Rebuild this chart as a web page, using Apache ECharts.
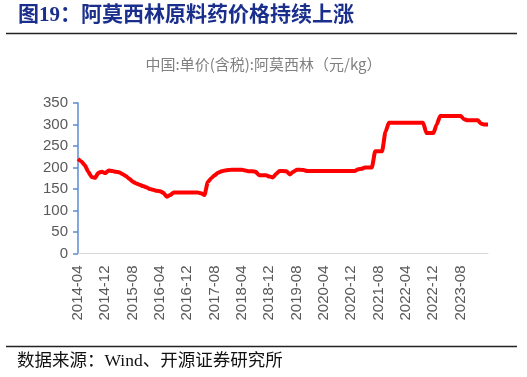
<!DOCTYPE html>
<html>
<head>
<meta charset="utf-8">
<script src="https://cdn.jsdelivr.net/npm/echarts@6/dist/echarts.min.js"></script>
<style>
html,body{margin:0;padding:0;background:#fff;}
#c{width:527px;height:377px;}
</style>
</head>
<body>
<div id="c"></div>
<script>
var titleText = '图19：阿莫西林原料药价格持续上涨';
var subTitle = '中国:单价(含税):阿莫西林（元/kg）';
var sourceText = '数据来源：Wind、开源证券研究所';
var yTicks = [0, 50, 100, 150, 200, 250, 300, 350];

// monthly values 2014-04 .. 2024-04
var values = [
  220, 214, 205, 190, 178, 176, 188, 190, 187, 193, 192, 190,
  189, 185, 180, 174, 167, 163, 160, 157, 154, 150, 148, 146,
  145, 141, 132, 136, 142, 142, 142, 142, 142, 142, 142, 142,
  140, 136, 166, 175, 182, 188, 191, 193, 194, 195, 195, 195,
  195, 193, 191, 191, 190, 182, 182, 182, 179, 177, 185, 192,
  192, 191, 184, 190, 195, 195, 194, 192, 192, 192, 192, 192,
  192, 192, 192, 192, 192, 192, 192, 192, 192, 192, 196, 197,
  200, 200, 200, 238, 238, 238, 283, 304, 304, 304, 304, 304,
  304, 304, 304, 304, 304, 304, 280, 280, 280, 300, 320, 320,
  320, 320, 320, 320, 320, 312, 310, 310, 310, 310, 302, 300,
  300
];

var categories = [];
(function(){
  var y = 2014, m = 4;
  for (var i = 0; i < values.length; i++) {
    categories.push(y + '-' + (m < 10 ? '0' + m : '' + m));
    m++; if (m > 12) { m = 1; y++; }
  }
})();

var chart = echarts.init(document.getElementById('c'), null, {renderer: 'canvas'});
chart.setOption({
  animation: false,
  backgroundColor: '#fff',
  grid: {left: 78, top: 103, width: 410, height: 150.5, containLabel: false},
  graphic: [
    {type: 'text', left: 18, top: 5, style: {text: titleText, fill: '#1a2f8c', font: 'bold 21px "Liberation Serif", "Noto Sans CJK SC"'}},
    {type: 'line', shape: {x1: 6, y1: 33.5, x2: 517, y2: 33.5}, style: {stroke: '#222', lineWidth: 1.5}},
    {type: 'text', left: 'center', top: 57, style: {text: subTitle, fill: '#7f7f7f', font: '15px "Noto Sans CJK SC", "Liberation Sans"'}},
    {type: 'line', shape: {x1: 6, y1: 346.5, x2: 517, y2: 346.5}, style: {stroke: '#222', lineWidth: 1.5}},
    {type: 'text', left: 17, top: 353, style: {text: sourceText, fill: '#111', font: '17.5px "Liberation Serif", "Noto Sans CJK SC"'}}
  ],
  xAxis: {
    type: 'category',
    data: categories,
    boundaryGap: false,
    axisLine: {show: true, lineStyle: {color: '#d9d9d9', width: 1}},
    axisTick: {show: false},
    axisLabel: {
      interval: function (i) { return i % 8 === 0 && i < 120; },
      rotate: 90, color: '#595959', margin: 12,
      fontSize: 15, fontFamily: '"Liberation Sans", Arial'
    },
    splitLine: {show: false}
  },
  yAxis: {
    type: 'value',
    min: yTicks[0], max: yTicks[yTicks.length - 1], interval: 50,
    axisLine: {show: true, lineStyle: {color: '#5b8bd0', width: 1.5}},
    axisTick: {show: true, length: 5, lineStyle: {color: '#5b8bd0', width: 1.5}},
    axisLabel: {color: '#595959', fontSize: 15, margin: 10, fontFamily: '"Liberation Sans", Arial'},
    splitLine: {show: false}
  },
  series: [{
    type: 'line',
    data: values,
    symbol: 'none',
    smooth: 0.2,
    smoothMonotone: 'x',
    lineStyle: {color: '#ff0000', width: 4}
  }]
});
</script>
</body>
</html>
